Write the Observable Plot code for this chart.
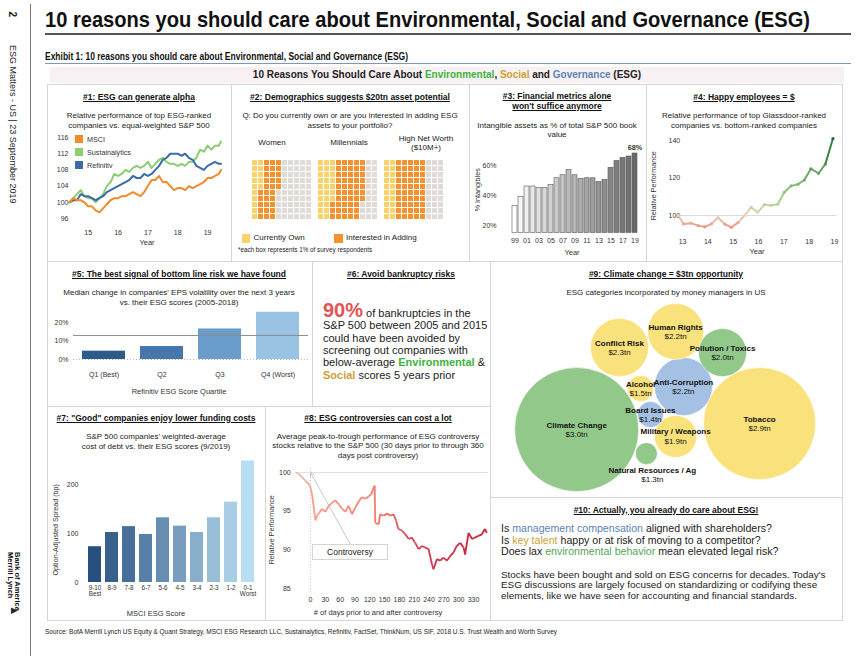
<!DOCTYPE html>
<html><head><meta charset="utf-8">
<script src="https://cdn.jsdelivr.net/npm/d3@7"></script>
<script src="https://cdn.jsdelivr.net/npm/@observablehq/plot@0.6"></script>
<style>
html,body{margin:0;padding:0;background:#fff;}
#page{position:relative;width:859px;height:661px;overflow:hidden;font-family:"Liberation Sans",Arial,sans-serif;color:#222;}
#page div{position:absolute;white-space:nowrap;line-height:1.05;}
.pt{font-weight:bold;text-decoration:underline;font-size:8.5px;color:#111;}
.sb{font-size:8px;color:#222;}
.ax{font-size:7.2px;color:#333;}
.box{border:1px solid #d6d6d6;box-sizing:border-box;}
</style></head><body><div id="page"></div>
<script>
// ================= DATA =================
// #1 relative performance of top ESG-ranked companies
const perfSeries = ["Sustainalytics","Refinitiv","MSCI"];
const perfColors = ["#8ccd70","#3c6ca6","#f28b2c"];
const perfYears = [2014.375,2014.5,2014.625,2014.75,2014.875,2015,2015.125,2015.25,2015.375,2015.5,2015.625,2015.75,2015.875,2016,2016.125,2016.25,2016.375,2016.5,2016.625,2016.75,2016.875,2017,2017.125,2017.25,2017.375,2017.5,2017.625,2017.75,2017.875,2018,2018.125,2018.25,2018.375,2018.5,2018.625,2018.75,2018.875,2019,2019.125,2019.25,2019.375,2019.45];
const msciRel = [100,101,100.5,100.5,100,99,99,98,97.5,98.5,99.5,100.5,101,101,101.5,101.5,102,102.5,102,101.5,102.5,104,105.5,105.5,106.5,105,105,104,103,103.5,103.5,103,104,103.5,104,104.5,105,106,106,106.5,107,108];
const sustRel = [100,101,102,103,101.5,101,101,100,101,102,104,105,107,106.5,107,108,107.5,108.5,109,108.5,109,110,108.5,109.5,110.5,111,110,109.5,109.5,109,109.5,109,110,110,111,113,112.5,114,113,114,114,115];
const refRel = [100,100.5,100.5,102,101.5,101.5,101,100.5,101,101.5,102.5,103,103.5,104,104.5,105,105.5,106.5,106,106,107,106.5,107,108,109,110.5,111,112,112,112,111.5,112,111,110.5,109,108.5,108,109,109.5,110,109.5,109.5];
const perfYTicks = [96,100,104,108,112,116];
const perfXTicks = [2015,2016,2017,2018,2019];

// #2 waffles (% of respondents)
const waffleGroups = ["Women","Millennials","High Net Worth"];
const ownPct = [15,27,20];
const addPct = [30,50,50];
const waffleStatus = ["Currently Own","Interested in Adding","Neither"];
const waffleColors = ["#f6d36b","#f3922f","#dfdbd7"];

// #3 intangibles as % of S&P 500 book value
const intangYears = [1999,2000,2001,2002,2003,2004,2005,2006,2007,2008,2009,2010,2011,2012,2013,2014,2015,2016,2017,2018,2019];
const intangPct = [33,39,46,46,45,45,47,51.5,53.5,57,53.5,51,51.5,51.5,49,50.5,58.5,63,65,66,68];
const intangTicks = [20,40,60];
const intangFloor = 15;

// #4 Glassdoor relative performance
const glassYears = [2012.83,2013.04,2013.33,2013.62,2013.88,2014.14,2014.4,2014.66,2014.93,2015.19,2015.45,2015.71,2015.97,2016.24,2016.5,2016.76,2017.02,2017.29,2017.55,2017.81,2018.07,2018.37,2018.64,2018.94];
const glassPerf = [100,95.5,95.9,94.6,93.9,95.5,98.9,95.5,93.7,96.2,100,104.3,101.8,105.8,105.4,106,112.4,115.8,116.6,118.9,124.9,122.5,127.4,141];
const glassYTicks = [100,120,140];
const glassXTicks = [2013,2014,2015,2016,2017,2018,2019];

// #5 EPS volatility change by Refinitiv ESG quartile
const quartiles = ["Q1 (Best)","Q2","Q3","Q4 (Worst)"];
const epsVolChange = [4.5,7,16.5,25.5];
const allStockMedian = 13;
const quartileColors = ["#2d5b8b","#4676ab","#6b9dcb","#98c3e3"];

// #7 cost of debt vs MSCI ESG score
const msciBuckets = ["9-10","8-9","7-8","6-7","5-6","4-5","3-4","2-3","1-2","0-1"];
const oasBp = [73,102,114,98,132,115,102,132,164,248];
const bucketNotes = {"9-10":"Best","0-1":"Worst"};

// #8 ESG controversy relative performance
const contDays = [-30,-24,-17,-10,-5,-1,3,7,10,13,18,23,30,37,44,50,57,64,71,77,84,91,98,104,111,118,123,128,130,131,138,141,148,155,162,168,173,178,185,192,199,205,212,219,226,232,239,246,249,256,263,269,276,283,290,296,303,310,313,320,327,333,340,347,353,357];
const contPerf = [100,99.8,99.4,98.9,98.6,98.3,97.2,95.3,93.8,94.4,94.8,95.3,94.9,95.7,96.1,96.4,95.9,95.3,94.9,95.7,94.6,95.5,96.3,96.8,96.6,96.9,97.2,98.1,98.3,93.5,93.3,94.6,94.4,94.7,94.4,94.6,93.8,92.7,92.5,92,91.4,91.6,90.9,90.1,90.5,90.3,90.1,88.1,87.5,88.8,88.6,89,88.6,89.2,89.7,90.5,90.9,90.3,89.4,92.2,91.4,91.6,91.8,92,92.7,92.2];
const contXTicks = [0,30,60,90,120,150,180,210,240,270,300,330];
const contYTicks = [85,90,95,100];
const controversyEvent = {day:0, level:100};
const controversyNote = {day:81, level:90.7, text:"Controversy"};

// #9 ESG categories (bubble chart: x, y, bubble size, label value)
const bubbleNames = ["Climate Change","Tobacco","Conflict Risk","Human Rights","Pollution / Toxics","Anti-Corruption","Alcohol","Board Issues","Military / Weapons","Natural Resources / Ag"];
const bubbleAssets = ["$3.0tn","$2.9tn","$2.3tn","$2.2tn","$2.0tn","$2.2tn","$1.5tn","$1.4tn","$1.9tn","$1.3tn"];
const bubblePillar = ["E","S","S","S","E","G","S","G","S","E"];
const bubbleX = [2.24,7.62,3.5,5.15,6.53,5.38,4.12,4.41,5.15,4.29];
const bubbleY = [3.38,3.69,7.59,8.41,7.33,5.59,5.49,4.15,3.03,2.15];
const bubbleSize = [100,81.6,21.9,20.4,15,21.9,4.4,4.4,11.5,3.1];
const pillarColors = {E:"#93c88b",S:"#f9e17c",G:"#a4c0e3"};
const labelBelow = ["Natural Resources / Ag"];

// ================= HELPERS =================
const page = document.getElementById("page");
function add(html, x, y, cls, css, anchor){
  const d = document.createElement("div");
  d.innerHTML = html; if (cls) d.className = cls;
  Object.assign(d.style, css || {});
  page.appendChild(d);
  const r = d.getBoundingClientRect();
  const ax = anchor === "middle" ? r.width/2 : anchor === "end" ? r.width : 0;
  d.style.left = (x - ax) + "px"; d.style.top = (y - r.height/2) + "px";
  return d;
}
function fitW(d, w){ const r = d.getBoundingClientRect(); d.style.transformOrigin = "left center"; d.style.transform = `scaleX(${w/r.width})`; }
function rot(html, cx, cy, cls, css, deg){
  const d = document.createElement("div");
  d.innerHTML = html; if (cls) d.className = cls;
  Object.assign(d.style, css || {});
  page.appendChild(d);
  const r = d.getBoundingClientRect();
  d.style.left = (cx - r.width/2) + "px"; d.style.top = (cy - r.height/2) + "px";
  d.style.transform = `rotate(${deg}deg)`;
  return d;
}
function box(x1,y1,x2,y2,css){ const d=document.createElement("div"); d.className="box";
  Object.assign(d.style,{left:x1+"px",top:y1+"px",width:(x2-x1+1)+"px",height:(y2-y1+1)+"px"},css||{}); page.appendChild(d); return d; }
function place(svg, x, y){ svg.style.position="absolute"; svg.style.left=x+"px"; svg.style.top=y+"px"; page.appendChild(svg); }
const ps = {fontFamily:'"Liberation Sans", Arial, sans-serif', fontSize:"7px", color:"#333", background:"transparent", overflow:"visible"};
const GREEN="#3cb43c", GOLD="#c9a233", BLUE="#5b84b6";
function segs(xs, ys){ return xs.slice(1).map((x,i)=>({x1:xs[i],y1:ys[i],x2:x,y2:ys[i+1],t:(xs[i]+x)/2,v:(ys[i]+ys[i+1])/2})); }

// ================= PAGE FRAME =================
const rule = document.createElement("div");
Object.assign(rule.style,{left:"30px",top:"4px",width:"1px",height:"652px",background:"#777"}); page.appendChild(rule);
rot("2", 12, 14, null, {fontSize:"10px",fontWeight:"bold"}, 90);
const side = add("ESG Matters - US | 23 September 2019", 8, 125, null, {fontSize:"9px",writingMode:"vertical-rl",color:"#222"});
side.style.top = "45px";
const logo = add("Bank of America<br>Merrill Lynch", 6, 577, null, {fontSize:"7.5px",fontWeight:"bold",writingMode:"vertical-rl",color:"#111",lineHeight:"1"});
logo.style.top = "552px";
add("&#9650;", 9, 610, null, {fontSize:"11px",color:"#222",transform:"rotate(90deg)"});

const title = add("10 reasons you should care about Environmental, Social and Governance (ESG)", 45, 20, null, {fontSize:"22px",fontWeight:"bold",color:"#111"});
fitW(title, 765);
const tl = document.createElement("div"); Object.assign(tl.style,{left:"45px",top:"33px",width:"806px",height:"2px",background:"#555"}); page.appendChild(tl);
const ex = add("Exhibit 1: 10 reasons you should care about Environmental, Social and Governance (ESG)", 45, 57, null, {fontSize:"10px",fontWeight:"bold",color:"#111"});
fitW(ex, 363);
const el = document.createElement("div"); Object.assign(el.style,{left:"45px",top:"63px",width:"806px",height:"1px",background:"#7f97b8"}); page.appendChild(el);
const band = document.createElement("div"); Object.assign(band.style,{left:"50px",top:"67px",width:"794px",height:"16px",background:"#f8f1f4"}); page.appendChild(band);
add(`10 Reasons You Should Care About <span style="color:${GREEN}">Environmental</span>, <span style="color:${GOLD}">Social</span> and <span style="color:${BLUE}">Governance</span> (ESG)`, 447, 75.5, null, {fontSize:"10px",fontWeight:"bold",color:"#222"}, "middle");

box(47,84,231,261); box(231,84,469,261); box(469,84,646,261); box(646,84,842,261);
box(47,261,312,406); box(312,261,490,406); box(490,261,842,497);
box(47,406,265,620); box(265,406,490,620); box(490,497,842,620);

const src = add("Source: BofA Merrill Lynch US Equity &amp; Quant Strategy, MSCI ESG Research LLC, Sustainalytics, Refinitiv, FactSet, ThinkNum, US SIF, 2018 U.S. Trust Wealth and Worth Survey", 45, 632, null, {fontSize:"8px",color:"#222"});
fitW(src, 512);

// ================= #1 =================
add("#1: ESG can generate alpha", 139, 97, "pt", null, "middle");
add("Relative performance of top ESG-ranked", 139, 116, "sb", null, "middle");
add("companies vs. equal-weighted S&amp;P 500", 139, 126, "sb", null, "middle");
const perfRows = [];
perfSeries.forEach(s => {
  const arr = s === "MSCI" ? msciRel : s === "Sustainalytics" ? sustRel : refRel;
  perfYears.forEach((t,i) => perfRows.push({t, v: arr[i], s}));
});
place(Plot.plot({width:176,height:125,marginLeft:19,marginRight:1,marginTop:3,marginBottom:33,style:ps,
  x:{domain:[2014.375,2019.6]}, y:{domain:[95,117]},
  color:{domain:perfSeries, range:perfColors},
  marks:[
    Plot.axisY({ticks:perfYTicks,tickSize:0,tickPadding:1,label:null}),
    Plot.axisX({ticks:perfXTicks,tickFormat:d=>String(d).slice(2),tickSize:0,tickPadding:8,label:null}),
    Plot.line(perfRows,{x:"t",y:"v",z:"s",stroke:"s",strokeWidth:2})
  ]}), 50, 130);
["MSCI","Sustainalytics","Refinitiv"].forEach((s,i) => {
  const c = perfColors[perfSeries.indexOf(s)];
  const sq = document.createElement("div"); Object.assign(sq.style,{left:"75px",top:(135+i*13)+"px",width:"8px",height:"8px",background:c}); page.appendChild(sq);
  add(s, 87, 139.5+i*13, "ax");
});
add("Year", 147, 243, "ax", {fontSize:"7.5px"}, "middle");

// ================= #2 =================
add("#2: Demographics suggests $20tn asset potential", 350, 97, "pt", null, "middle");
add("Q: Do you currently own or are you interested in adding ESG", 350, 116, "sb", null, "middle");
add("assets to your portfolio?", 350, 126, "sb", null, "middle");
add("Women", 272, 143, "sb", null, "middle");
add("Millennials", 349, 143, "sb", null, "middle");
add("High Net Worth", 426, 139, "sb", null, "middle");
add("($10M+)", 426, 148, "sb", null, "middle");
const cells = [];
waffleGroups.forEach((g,gi) => {
  for (let i = 0; i < 100; i++) {
    const st = i < ownPct[gi] ? waffleStatus[0] : i < ownPct[gi] + addPct[gi] ? waffleStatus[1] : waffleStatus[2];
    cells.push({col: gi*11 + Math.floor(i/10), row: i % 10, st});
  }
});
place(Plot.plot({width:230,height:74,marginLeft:3.7,marginRight:2.9,marginTop:3,marginBottom:2.6,style:ps,
  x:{type:"band",domain:d3.range(32),padding:0.235,axis:null},
  y:{type:"band",domain:d3.range(10),padding:0.25,axis:null},
  color:{domain:waffleStatus,range:waffleColors},
  marks:[Plot.cell(cells,{x:"col",y:"row",fill:"st"})]
}), 232, 152);
[[0,241.5],[1,334]].forEach(([k,x]) => {
  const sq = document.createElement("div"); Object.assign(sq.style,{left:x+"px",top:"234px",width:"8.5px",height:"8.5px",background:waffleColors[k]}); page.appendChild(sq);
  add(waffleStatus[k], x+12, 238.5, "sb");
});
add("*each box represents 1% of survey respondents", 238, 250.5, null, {fontSize:"6.3px",color:"#222"});

// ================= #3 =================
add("#3: Financial metrics alone", 557, 96, "pt", null, "middle");
add("won't suffice anymore", 557, 106, "pt", null, "middle");
add("Intangible assets as % of total S&amp;P 500 book", 557, 126, "sb", null, "middle");
add("value", 557, 135, "sb", null, "middle");
const intangRows = intangYears.map((year,i) => ({year, pct: intangPct[i]}));
place(Plot.plot({width:172,height:115,marginLeft:40,marginRight:4,marginTop:10,marginBottom:22.5,style:ps,
  x:{type:"band",domain:intangYears,padding:0.25}, y:{domain:[intangFloor,70]},
  color:{type:"linear",domain:[1999,2019],range:["#ffffff","#686868"]},
  marks:[
    Plot.axisY({ticks:intangTicks,tickFormat:d=>d+"%",tickSize:0,tickPadding:14,label:null}),
    Plot.axisX({tickFormat:d=>d%2 ? String(d).slice(2) : "",tickSize:0,tickPadding:5,label:null}),
    Plot.barY(intangRows,{x:"year",y1:intangFloor,y2:"pct",fill:"year",stroke:"#5a5a5a",strokeWidth:0.6}),
    Plot.text(intangRows.slice(-1),{x:"year",y:"pct",text:d=>d.pct+"%",dy:-6,fontWeight:"bold",fontSize:7.2})
  ]}), 470, 140);
rot("% Intangibles", 478, 190, "ax", null, -90);
add("Year", 572, 253, "ax", {fontSize:"7.5px"}, "middle");

// ================= #4 =================
add("#4: Happy employees = $", 744, 97, "pt", null, "middle");
add("Relative performance of top Glassdoor-ranked", 744, 116, "sb", null, "middle");
add("companies vs. bottom-ranked companies", 744, 126, "sb", null, "middle");
const glassRows = glassYears.map((t,i)=>({t, v: glassPerf[i]}));
const glassColor = {type:"linear",domain:[93,100,110,141],range:["#f08b7a","#e2d5c2","#98d07c","#1c6a34"]};
place(Plot.plot({width:192,height:130,marginLeft:25.7,marginRight:5.5,marginTop:0.6,marginBottom:26.25,style:ps,
  x:{domain:[2012.75,2019.1]}, y:{domain:[90,145]}, color:glassColor,
  marks:[
    Plot.ruleY([100],{stroke:"#dcdcdc"}),
    Plot.axisY({ticks:glassYTicks,tickSize:0,tickPadding:-4,label:null}),
    Plot.axisX({ticks:glassXTicks,tickFormat:d=>String(d).slice(2),tickSize:0,tickPadding:5,label:null}),
    Plot.link(segs(glassYears,glassPerf),{x1:"x1",y1:"y1",x2:"x2",y2:"y2",stroke:"v",strokeWidth:1.9}),
    Plot.dot(glassRows,{x:"t",y:"v",fill:"v",r:1.6})
  ]}), 650, 130);
rot("Relative Performance", 654, 186, "ax", null, -90);
add("Year", 757, 252, "ax", {fontSize:"7.5px"}, "middle");

// ================= #5 =================
add("#5: The best signal of bottom line risk we have found", 179, 274, "pt", null, "middle");
add("Median change in companies' EPS volatility over the next 3 years", 179, 293, "sb", null, "middle");
add("vs. their ESG scores (2005-2018)", 179, 303, "sb", null, "middle");
const qRows = quartiles.map((q,i)=>({q, v: epsVolChange[i]}));
place(Plot.plot({width:262,height:80,marginLeft:23,marginRight:4,marginTop:4,marginBottom:26,style:ps,
  x:{type:"band",domain:quartiles,paddingInner:0.26,paddingOuter:0.14}, y:{domain:[0,27]},
  color:{domain:quartiles,range:quartileColors},
  marks:[
    Plot.axisY({ticks:[0,10,20],tickFormat:d=>d+"%",tickSize:0,tickPadding:5,label:null}),
    Plot.axisX({tickSize:0,tickPadding:13,label:null}),
    Plot.barY(qRows,{x:"q",y:"v",fill:"q"}),
    Plot.ruleY([0],{stroke:"#bbb",strokeDasharray:"1,2"}),
    Plot.ruleY([allStockMedian],{stroke:"#8a8a8a",strokeWidth:1})
  ]}), 50, 305);
add("Refinitiv ESG Score Quartile", 179, 392, "ax", {fontSize:"7.5px"}, "middle");

// ================= #6 =================
add("#6: Avoid bankruptcy risks", 401, 274, "pt", null, "middle");
const t6 = {fontSize:"11px",color:"#222"};
add(`<span style="font-size:20px;font-weight:bold;color:#e25555">90%</span> of bankruptcies in the`, 323, 310, null, t6);
add("S&amp;P 500 between 2005 and 2015", 323, 326, null, t6);
add("could have been avoided by", 323, 338.5, null, t6);
add("screening out companies with", 323, 350.5, null, t6);
add(`below-average <b style="color:${GREEN}">Environmental</b> &amp;`, 323, 363, null, t6);
add(`<b style="color:${GOLD}">Social</b> scores 5 years prior`, 323, 375.5, null, t6);

// ================= #7 =================
add("#7: \"Good\" companies enjoy lower funding costs", 156, 418, "pt", null, "middle");
add("S&amp;P 500 companies' weighted-average", 156, 437, "sb", null, "middle");
add("cost of debt vs. their ESG scores (9/2019)", 156, 447, "sb", null, "middle");
const oasRows = msciBuckets.map((b,i)=>({b, v: oasBp[i]}));
place(Plot.plot({width:215,height:160,marginLeft:32,marginRight:5,marginTop:9.6,marginBottom:23,style:{...ps,fontSize:"6.3px"},
  x:{type:"band",domain:msciBuckets,paddingInner:0.23,paddingOuter:0.2}, y:{domain:[0,260]},
  color:{domain:msciBuckets,range:d3.quantize(d3.interpolateRgb("#27507f","#b9ddf2"),msciBuckets.length)},
  marks:[
    Plot.axisY({ticks:[0,100,200],tickSize:0,tickPadding:4,label:null,fontSize:7}),
    Plot.axisX({tickFormat:d=>bucketNotes[d] ? d+"\n"+bucketNotes[d] : d,tickSize:0,tickPadding:3,label:null,lineHeight:0.95}),
    Plot.barY(oasRows,{x:"b",y:"v",fill:"b"})
  ]}), 50, 445);
rot("Option-Adjusted Spread (bp)", 56, 530, "ax", null, -90);
add("MSCI ESG Score", 156, 614, "ax", {fontSize:"7.5px"}, "middle");

// ================= #8 =================
add("#8: ESG controversies can cost a lot", 378, 418, "pt", null, "middle");
add("Average peak-to-trough performance of ESG controversy", 378, 437, "sb", null, "middle");
add("stocks relative to the S&amp;P 500 (30 days prior to through 360", 378, 446.5, "sb", null, "middle");
add("days post controversy)", 378, 456, "sb", null, "middle");
place(Plot.plot({width:222,height:150,marginLeft:27.2,marginRight:2.2,marginTop:6.1,marginBottom:20.1,style:ps,
  x:{domain:[-30,360]}, y:{domain:[84.5,100.5]},
  color:{type:"linear",domain:[-30,0,130,200,360],range:["#d9cbbb","#f7a08e","#f2806e","#dc4352","#c51f3b"]},
  marks:[
    Plot.ruleY([controversyEvent.level],{stroke:"#e0e0e0"}),
    Plot.ruleX([controversyEvent.day],{stroke:"#c8c8c8",strokeDasharray:"1,2"}),
    Plot.axisY({ticks:contYTicks,tickSize:0,tickPadding:5,label:null}),
    Plot.axisX({ticks:contXTicks,tickSize:0,tickPadding:5,label:null}),
    Plot.arrow([controversyNote],{x1:"day",y1:"level",x2:()=>controversyEvent.day,y2:()=>controversyEvent.level,stroke:"#c9c9c9",strokeWidth:1,headLength:6}),
    Plot.link(segs(contDays,contPerf),{x1:"x1",y1:"y1",x2:"x2",y2:"y2",stroke:"t",strokeWidth:1.8})
  ]}), 268, 462);
add(controversyNote.text, 350, 552, null, {fontSize:"8.5px",color:"#222",background:"#fff",border:"1px solid #d4d4d4",padding:"3px 14px"}, "middle");
rot("Relative Performance", 272, 530, "ax", null, -90);
add("# of days prior to and after controversy", 378, 613, "ax", {fontSize:"7.5px"}, "middle");

// ================= #9 =================
add("#9: Climate change = $3tn opportunity", 666, 274, "pt", null, "middle");
add("ESG categories incorporated by money managers in US", 666, 293, "sb", null, "middle");
const bub = bubbleNames.map((n,i)=>({n, a: bubbleAssets[i], p: bubblePillar[i], x: bubbleX[i], y: bubbleY[i], s: bubbleSize[i]}));
const inside = bub.filter(d => !labelBelow.includes(d.n));
const below = bub.filter(d => labelBelow.includes(d.n));
place(Plot.plot({width:340,height:195,margin:0,style:{...ps,fontSize:"8px",color:"#111"},
  x:{domain:[0,10],axis:null}, y:{domain:[0,10],axis:null},
  r:{type:"sqrt",domain:[0,100],range:[0,62]},
  marks:[
    Plot.dot(bub,{x:"x",y:"y",r:"s",fill:d=>pillarColors[d.p],stroke:"white",strokeWidth:0.5}),
    Plot.text(inside,{x:"x",y:"y",text:"n",dy:-4.5,fontWeight:"bold",fill:"#111"}),
    Plot.text(inside,{x:"x",y:"y",text:"a",dy:5,fill:"#111"}),
    Plot.text(below,{x:"x",y:"y",text:"n",dy:17,dx:6,fontWeight:"bold",fill:"#111"}),
    Plot.text(below,{x:"x",y:"y",text:"a",dy:26,dx:6,fill:"#111"})
  ]}), 500, 300);

// ================= #10 =================
add("#10: Actually, you already do care about ESG!", 666, 510, "pt", null, "middle");
const q10 = {fontSize:"10.6px",color:"#222"};
add(`Is <span style="color:${BLUE}">management compensation</span> aligned with shareholders?`, 501, 528.5, null, q10);
add(`Is <span style="color:${GOLD}">key talent</span> happy or at risk of moving to a competitor?`, 501, 540.5, null, q10);
add(`Does lax <span style="color:#56a556">environmental behavior</span> mean elevated legal risk?`, 501, 552, null, q10);
const p10 = {fontSize:"9.9px",color:"#222"};
add("Stocks have been bought and sold on ESG concerns for decades. Today's", 501, 575, null, p10);
add("ESG discussions are largely focused on standardizing or codifying these", 501, 585.5, null, p10);
add("elements, like we have seen for accounting and financial standards.", 501, 596, null, p10);
</script></body></html>
